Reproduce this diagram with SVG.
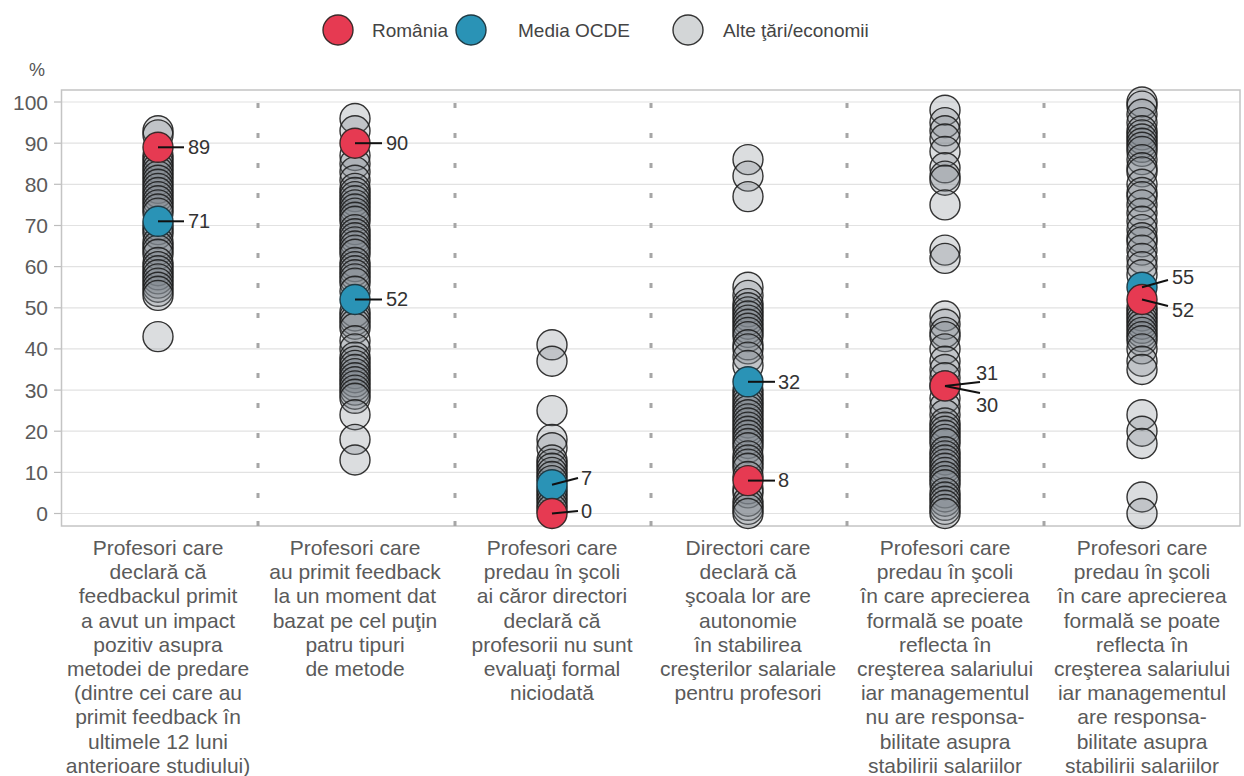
<svg xmlns="http://www.w3.org/2000/svg" width="1244" height="776" viewBox="0 0 1244 776">
<style>
text{font-family:"Liberation Sans",Arial,sans-serif;font-size:20px;fill:#555}
.lab{text-anchor:middle;fill:#5a5a5a;font-size:21px}
.ax{text-anchor:end;fill:#5a5a5a;font-size:21px}
.lg{font-size:19px;fill:#444}
.val{fill:#333}
.grid{stroke:#e2e2e2;stroke-width:1.2}
.g circle{fill:#7c868b;fill-opacity:.28;stroke:#1e1e1e;stroke-width:1.4;stroke-opacity:.9}
.ro{fill:#e63a52;stroke:#3a2a2a;stroke-width:1.4}
.oe{fill:#2a93b6;stroke:#1f3a44;stroke-width:1.4}
.ot{fill:#d3d6d7;stroke:#333;stroke-width:1.4}
.ld{stroke:#111;stroke-width:2;fill:none}
.sep rect{fill:#a6a6a6}
</style>
<rect width="1244" height="776" fill="#fff"/>
<g id="legend">
<circle class="ro" cx="338" cy="30" r="15"/><text class="lg" x="372" y="37">România</text>
<circle class="oe" cx="471" cy="30" r="15"/><text class="lg" x="518" y="37">Media OCDE</text>
<circle class="ot" cx="688" cy="30" r="15"/><text class="lg" x="723" y="37">Alte ţări/economii</text>
</g>
<g id="axis">
<text x="29" y="76" style="font-size:18px">%</text>
<g class="grid">
<line x1="62" y1="513.5" x2="1240" y2="513.5"/><line x1="62" y1="472.4" x2="1240" y2="472.4"/><line x1="62" y1="431.2" x2="1240" y2="431.2"/><line x1="62" y1="390.1" x2="1240" y2="390.1"/><line x1="62" y1="348.9" x2="1240" y2="348.9"/><line x1="62" y1="307.8" x2="1240" y2="307.8"/><line x1="62" y1="266.6" x2="1240" y2="266.6"/><line x1="62" y1="225.5" x2="1240" y2="225.5"/><line x1="62" y1="184.3" x2="1240" y2="184.3"/><line x1="62" y1="143.2" x2="1240" y2="143.2"/><line x1="62" y1="102" x2="1240" y2="102"/>
</g>
<g stroke="#bdbdbd" stroke-width="1.2">
<line x1="54" y1="513.5" x2="62" y2="513.5"/><line x1="54" y1="472.4" x2="62" y2="472.4"/><line x1="54" y1="431.2" x2="62" y2="431.2"/><line x1="54" y1="390.1" x2="62" y2="390.1"/><line x1="54" y1="348.9" x2="62" y2="348.9"/><line x1="54" y1="307.8" x2="62" y2="307.8"/><line x1="54" y1="266.6" x2="62" y2="266.6"/><line x1="54" y1="225.5" x2="62" y2="225.5"/><line x1="54" y1="184.3" x2="62" y2="184.3"/><line x1="54" y1="143.2" x2="62" y2="143.2"/><line x1="54" y1="102" x2="62" y2="102"/>
</g>
<rect x="61.5" y="90" width="1178.5" height="436" fill="none" stroke="#c4c4c4" stroke-width="1.5"/>
<text class="ax" x="48" y="521">0</text><text class="ax" x="48" y="479.9">10</text><text class="ax" x="48" y="438.7">20</text><text class="ax" x="48" y="397.6">30</text><text class="ax" x="48" y="356.4">40</text><text class="ax" x="48" y="315.3">50</text><text class="ax" x="48" y="274.1">60</text><text class="ax" x="48" y="233">70</text><text class="ax" x="48" y="191.8">80</text><text class="ax" x="48" y="150.7">90</text><text class="ax" x="48" y="109.5">100</text>
</g>
<g id="separators" class="sep">
<g transform="translate(256.5,0)"><rect y="103" width="3" height="5"/><rect y="133" width="3" height="5"/><rect y="163" width="3" height="5"/><rect y="193" width="3" height="5"/><rect y="223" width="3" height="5"/><rect y="253" width="3" height="5"/><rect y="283" width="3" height="5"/><rect y="313" width="3" height="5"/><rect y="343" width="3" height="5"/><rect y="373" width="3" height="5"/><rect y="403" width="3" height="5"/><rect y="433" width="3" height="5"/><rect y="463" width="3" height="5"/><rect y="493" width="3" height="5"/><rect y="521" width="3" height="5"/></g>
<g transform="translate(453.5,0)"><rect y="103" width="3" height="5"/><rect y="133" width="3" height="5"/><rect y="163" width="3" height="5"/><rect y="193" width="3" height="5"/><rect y="223" width="3" height="5"/><rect y="253" width="3" height="5"/><rect y="283" width="3" height="5"/><rect y="313" width="3" height="5"/><rect y="343" width="3" height="5"/><rect y="373" width="3" height="5"/><rect y="403" width="3" height="5"/><rect y="433" width="3" height="5"/><rect y="463" width="3" height="5"/><rect y="493" width="3" height="5"/><rect y="521" width="3" height="5"/></g>
<g transform="translate(649.5,0)"><rect y="103" width="3" height="5"/><rect y="133" width="3" height="5"/><rect y="163" width="3" height="5"/><rect y="193" width="3" height="5"/><rect y="223" width="3" height="5"/><rect y="253" width="3" height="5"/><rect y="283" width="3" height="5"/><rect y="313" width="3" height="5"/><rect y="343" width="3" height="5"/><rect y="373" width="3" height="5"/><rect y="403" width="3" height="5"/><rect y="433" width="3" height="5"/><rect y="463" width="3" height="5"/><rect y="493" width="3" height="5"/><rect y="521" width="3" height="5"/></g>
<g transform="translate(845.5,0)"><rect y="103" width="3" height="5"/><rect y="133" width="3" height="5"/><rect y="163" width="3" height="5"/><rect y="193" width="3" height="5"/><rect y="223" width="3" height="5"/><rect y="253" width="3" height="5"/><rect y="283" width="3" height="5"/><rect y="313" width="3" height="5"/><rect y="343" width="3" height="5"/><rect y="373" width="3" height="5"/><rect y="403" width="3" height="5"/><rect y="433" width="3" height="5"/><rect y="463" width="3" height="5"/><rect y="493" width="3" height="5"/><rect y="521" width="3" height="5"/></g>
<g transform="translate(1042.5,0)"><rect y="103" width="3" height="5"/><rect y="133" width="3" height="5"/><rect y="163" width="3" height="5"/><rect y="193" width="3" height="5"/><rect y="223" width="3" height="5"/><rect y="253" width="3" height="5"/><rect y="283" width="3" height="5"/><rect y="313" width="3" height="5"/><rect y="343" width="3" height="5"/><rect y="373" width="3" height="5"/><rect y="403" width="3" height="5"/><rect y="433" width="3" height="5"/><rect y="463" width="3" height="5"/><rect y="493" width="3" height="5"/><rect y="521" width="3" height="5"/></g>
</g>
<g id="col1">
<g class="g" transform="translate(158,0)">
<circle cy="130.8" r="15"/><circle cy="134.9" r="15"/><circle cy="155.5" r="15"/><circle cy="159.6" r="15"/><circle cy="163.7" r="15"/><circle cy="167.8" r="15"/><circle cy="171.9" r="15"/><circle cy="176.1" r="15"/><circle cy="180.2" r="15"/><circle cy="184.3" r="15"/><circle cy="188.4" r="15"/><circle cy="192.5" r="15"/><circle cy="196.6" r="15"/><circle cy="200.8" r="15"/><circle cy="204.9" r="15"/><circle cy="209" r="15"/><circle cy="213.1" r="15"/><circle cy="225.5" r="15"/><circle cy="229.6" r="15"/><circle cy="233.7" r="15"/><circle cy="241.9" r="15"/><circle cy="246" r="15"/><circle cy="250.1" r="15"/><circle cy="254.3" r="15"/><circle cy="262.5" r="15"/><circle cy="266.6" r="15"/><circle cy="270.7" r="15"/><circle cy="274.8" r="15"/><circle cy="278.9" r="15"/><circle cy="283.1" r="15"/><circle cy="287.2" r="15"/><circle cy="291.3" r="15"/><circle cy="295.4" r="15"/><circle cy="336.6" r="15"/>
</g>
<circle class="oe" cx="158" cy="221.3" r="15"/>
<circle class="ro" cx="158" cy="147.3" r="15"/>
<text class="lab" y="555"><tspan x="158">Profesori care</tspan><tspan x="158" dy="24.2">declară că</tspan><tspan x="158" dy="24.2">feedbackul primit</tspan><tspan x="158" dy="24.2">a avut un impact</tspan><tspan x="158" dy="24.2">pozitiv asupra</tspan><tspan x="158" dy="24.2">metodei de predare</tspan><tspan x="158" dy="24.2">(dintre cei care au</tspan><tspan x="158" dy="24.2">primit feedback în</tspan><tspan x="158" dy="24.2">ultimele 12 luni</tspan><tspan x="158" dy="24.2">anterioare studiului)</tspan></text>
</g>
<g id="col2">
<g class="g" transform="translate(355,0)">
<circle cy="118.5" r="15"/><circle cy="130.8" r="15"/><circle cy="155.5" r="15"/><circle cy="163.7" r="15"/><circle cy="171.9" r="15"/><circle cy="180.2" r="15"/><circle cy="188.4" r="15"/><circle cy="192.5" r="15"/><circle cy="196.6" r="15"/><circle cy="200.8" r="15"/><circle cy="204.9" r="15"/><circle cy="209" r="15"/><circle cy="213.1" r="15"/><circle cy="217.2" r="15"/><circle cy="221.3" r="15"/><circle cy="229.6" r="15"/><circle cy="233.7" r="15"/><circle cy="237.8" r="15"/><circle cy="241.9" r="15"/><circle cy="246" r="15"/><circle cy="250.1" r="15"/><circle cy="254.3" r="15"/><circle cy="262.5" r="15"/><circle cy="266.6" r="15"/><circle cy="270.7" r="15"/><circle cy="274.8" r="15"/><circle cy="278.9" r="15"/><circle cy="283.1" r="15"/><circle cy="291.3" r="15"/><circle cy="311.9" r="15"/><circle cy="316" r="15"/><circle cy="320.1" r="15"/><circle cy="324.2" r="15"/><circle cy="328.3" r="15"/><circle cy="340.7" r="15"/><circle cy="348.9" r="15"/><circle cy="357.1" r="15"/><circle cy="361.2" r="15"/><circle cy="365.4" r="15"/><circle cy="369.5" r="15"/><circle cy="373.6" r="15"/><circle cy="377.7" r="15"/><circle cy="381.8" r="15"/><circle cy="385.9" r="15"/><circle cy="390.1" r="15"/><circle cy="394.2" r="15"/><circle cy="398.3" r="15"/><circle cy="414.7" r="15"/><circle cy="439.4" r="15"/><circle cy="460" r="15"/>
</g>
<circle class="oe" cx="355" cy="299.5" r="15"/>
<circle class="ro" cx="355" cy="143.2" r="15"/>
<text class="lab" y="555"><tspan x="355">Profesori care</tspan><tspan x="355" dy="24.2">au primit feedback</tspan><tspan x="355" dy="24.2">la un moment dat</tspan><tspan x="355" dy="24.2">bazat pe cel puţin</tspan><tspan x="355" dy="24.2">patru tipuri</tspan><tspan x="355" dy="24.2">de metode</tspan></text>
</g>
<g id="col3">
<g class="g" transform="translate(552,0)">
<circle cy="344.8" r="15"/><circle cy="361.2" r="15"/><circle cy="410.6" r="15"/><circle cy="439.4" r="15"/><circle cy="447.7" r="15"/><circle cy="460" r="15"/><circle cy="464.1" r="15"/><circle cy="468.2" r="15"/><circle cy="472.4" r="15"/><circle cy="476.5" r="15"/><circle cy="480.6" r="15"/><circle cy="488.8" r="15"/><circle cy="492.9" r="15"/><circle cy="497" r="15"/><circle cy="501.2" r="15"/><circle cy="505.3" r="15"/><circle cy="509.4" r="15"/>
</g>
<circle class="oe" cx="552" cy="484.7" r="15"/>
<circle class="ro" cx="552" cy="513.5" r="15"/>
<text class="lab" y="555"><tspan x="552">Profesori care</tspan><tspan x="552" dy="24.2">predau în şcoli</tspan><tspan x="552" dy="24.2">ai căror directori</tspan><tspan x="552" dy="24.2">declară că</tspan><tspan x="552" dy="24.2">profesorii nu sunt</tspan><tspan x="552" dy="24.2">evaluaţi formal</tspan><tspan x="552" dy="24.2">niciodată</tspan></text>
</g>
<g id="col4">
<g class="g" transform="translate(748,0)">
<circle cy="159.6" r="15"/><circle cy="176.1" r="15"/><circle cy="196.6" r="15"/><circle cy="287.2" r="15"/><circle cy="295.4" r="15"/><circle cy="303.6" r="15"/><circle cy="307.8" r="15"/><circle cy="311.9" r="15"/><circle cy="316" r="15"/><circle cy="320.1" r="15"/><circle cy="324.2" r="15"/><circle cy="328.3" r="15"/><circle cy="332.4" r="15"/><circle cy="336.6" r="15"/><circle cy="344.8" r="15"/><circle cy="348.9" r="15"/><circle cy="357.1" r="15"/><circle cy="365.4" r="15"/><circle cy="390.1" r="15"/><circle cy="394.2" r="15"/><circle cy="398.3" r="15"/><circle cy="402.4" r="15"/><circle cy="406.5" r="15"/><circle cy="410.6" r="15"/><circle cy="414.7" r="15"/><circle cy="418.9" r="15"/><circle cy="423" r="15"/><circle cy="427.1" r="15"/><circle cy="431.2" r="15"/><circle cy="435.3" r="15"/><circle cy="439.4" r="15"/><circle cy="443.5" r="15"/><circle cy="447.7" r="15"/><circle cy="455.9" r="15"/><circle cy="460" r="15"/><circle cy="464.1" r="15"/><circle cy="468.2" r="15"/><circle cy="476.5" r="15"/><circle cy="488.8" r="15"/><circle cy="492.9" r="15"/><circle cy="501.2" r="15"/><circle cy="505.3" r="15"/><circle cy="509.4" r="15"/><circle cy="513.5" r="15"/>
</g>
<circle class="oe" cx="748" cy="381.8" r="15"/>
<circle class="ro" cx="748" cy="480.6" r="15"/>
<text class="lab" y="555"><tspan x="748">Directori care</tspan><tspan x="748" dy="24.2">declară că</tspan><tspan x="748" dy="24.2">şcoala lor are</tspan><tspan x="748" dy="24.2">autonomie</tspan><tspan x="748" dy="24.2">în stabilirea</tspan><tspan x="748" dy="24.2">creşterilor salariale</tspan><tspan x="748" dy="24.2">pentru profesori</tspan></text>
</g>
<g id="col5">
<g class="g" transform="translate(945,0)">
<circle cy="110.2" r="15"/><circle cy="122.6" r="15"/><circle cy="130.8" r="15"/><circle cy="139" r="15"/><circle cy="151.4" r="15"/><circle cy="167.8" r="15"/><circle cy="176.1" r="15"/><circle cy="180.2" r="15"/><circle cy="204.9" r="15"/><circle cy="250.1" r="15"/><circle cy="258.4" r="15"/><circle cy="316" r="15"/><circle cy="324.2" r="15"/><circle cy="332.4" r="15"/><circle cy="336.6" r="15"/><circle cy="348.9" r="15"/><circle cy="361.2" r="15"/><circle cy="369.5" r="15"/><circle cy="377.7" r="15"/><circle cy="398.3" r="15"/><circle cy="406.5" r="15"/><circle cy="414.7" r="15"/><circle cy="423" r="15"/><circle cy="427.1" r="15"/><circle cy="431.2" r="15"/><circle cy="435.3" r="15"/><circle cy="439.4" r="15"/><circle cy="443.5" r="15"/><circle cy="451.8" r="15"/><circle cy="455.9" r="15"/><circle cy="460" r="15"/><circle cy="464.1" r="15"/><circle cy="468.2" r="15"/><circle cy="472.4" r="15"/><circle cy="476.5" r="15"/><circle cy="480.6" r="15"/><circle cy="484.7" r="15"/><circle cy="492.9" r="15"/><circle cy="497" r="15"/><circle cy="501.2" r="15"/><circle cy="505.3" r="15"/><circle cy="509.4" r="15"/><circle cy="513.5" r="15"/>
</g>
<circle class="oe" cx="945" cy="385.9" r="15"/>
<circle class="ro" cx="945" cy="385.9" r="15"/>
<text class="lab" y="555"><tspan x="945">Profesori care</tspan><tspan x="945" dy="24.2">predau în şcoli</tspan><tspan x="945" dy="24.2">în care aprecierea</tspan><tspan x="945" dy="24.2">formală se poate</tspan><tspan x="945" dy="24.2">reflecta în</tspan><tspan x="945" dy="24.2">creşterea salariului</tspan><tspan x="945" dy="24.2">iar managementul</tspan><tspan x="945" dy="24.2">nu are responsa-</tspan><tspan x="945" dy="24.2">bilitate asupra</tspan><tspan x="945" dy="24.2">stabilirii salariilor</tspan></text>
</g>
<g id="col6">
<g class="g" transform="translate(1142,0)">
<circle cy="102" r="15"/><circle cy="106.1" r="15"/><circle cy="114.3" r="15"/><circle cy="122.6" r="15"/><circle cy="130.8" r="15"/><circle cy="134.9" r="15"/><circle cy="139" r="15"/><circle cy="143.2" r="15"/><circle cy="147.3" r="15"/><circle cy="151.4" r="15"/><circle cy="159.6" r="15"/><circle cy="167.8" r="15"/><circle cy="171.9" r="15"/><circle cy="184.3" r="15"/><circle cy="192.5" r="15"/><circle cy="196.6" r="15"/><circle cy="204.9" r="15"/><circle cy="213.1" r="15"/><circle cy="221.3" r="15"/><circle cy="229.6" r="15"/><circle cy="237.8" r="15"/><circle cy="241.9" r="15"/><circle cy="250.1" r="15"/><circle cy="258.4" r="15"/><circle cy="266.6" r="15"/><circle cy="274.8" r="15"/><circle cy="307.8" r="15"/><circle cy="311.9" r="15"/><circle cy="316" r="15"/><circle cy="320.1" r="15"/><circle cy="324.2" r="15"/><circle cy="328.3" r="15"/><circle cy="332.4" r="15"/><circle cy="336.6" r="15"/><circle cy="340.7" r="15"/><circle cy="348.9" r="15"/><circle cy="361.2" r="15"/><circle cy="369.5" r="15"/><circle cy="414.7" r="15"/><circle cy="431.2" r="15"/><circle cy="443.5" r="15"/><circle cy="497" r="15"/><circle cy="513.5" r="15"/>
</g>
<circle class="oe" cx="1142" cy="287.2" r="15"/>
<circle class="ro" cx="1142" cy="299.5" r="15"/>
<text class="lab" y="555"><tspan x="1142">Profesori care</tspan><tspan x="1142" dy="24.2">predau în şcoli</tspan><tspan x="1142" dy="24.2">în care aprecierea</tspan><tspan x="1142" dy="24.2">formală se poate</tspan><tspan x="1142" dy="24.2">reflecta în</tspan><tspan x="1142" dy="24.2">creşterea salariului</tspan><tspan x="1142" dy="24.2">iar managementul</tspan><tspan x="1142" dy="24.2">are responsa-</tspan><tspan x="1142" dy="24.2">bilitate asupra</tspan><tspan x="1142" dy="24.2">stabilirii salariilor</tspan></text>
</g>
<g id="connectors" class="ld">
<line x1="158" y1="147.3" x2="184" y2="147.3"/>
<line x1="158" y1="221.3" x2="184" y2="221.3"/>
<line x1="355" y1="143.2" x2="382" y2="143.2"/>
<line x1="355" y1="299.5" x2="382" y2="299.5"/>
<line x1="552" y1="484.7" x2="578" y2="478"/>
<line x1="552" y1="513.5" x2="578" y2="511"/>
<line x1="748" y1="381.8" x2="775" y2="381.8"/>
<line x1="748" y1="480.6" x2="775" y2="480.6"/>
<line x1="945" y1="385.9" x2="980" y2="382"/>
<line x1="945" y1="385.9" x2="980" y2="393"/>
<line x1="1142" y1="287.2" x2="1168" y2="280"/>
<line x1="1142" y1="299.5" x2="1168" y2="306"/>
</g>
<g id="values">
<text class="val" x="188" y="154">89</text>
<text class="val" x="188" y="228">71</text>
<text class="val" x="386" y="150">90</text>
<text class="val" x="386" y="306">52</text>
<text class="val" x="581" y="485">7</text>
<text class="val" x="581" y="518">0</text>
<text class="val" x="778" y="389">32</text>
<text class="val" x="778" y="487">8</text>
<text class="val" x="976" y="380">31</text>
<text class="val" x="976" y="412">30</text>
<text class="val" x="1172" y="284">55</text>
<text class="val" x="1172" y="317">52</text>
</g>
</svg>
